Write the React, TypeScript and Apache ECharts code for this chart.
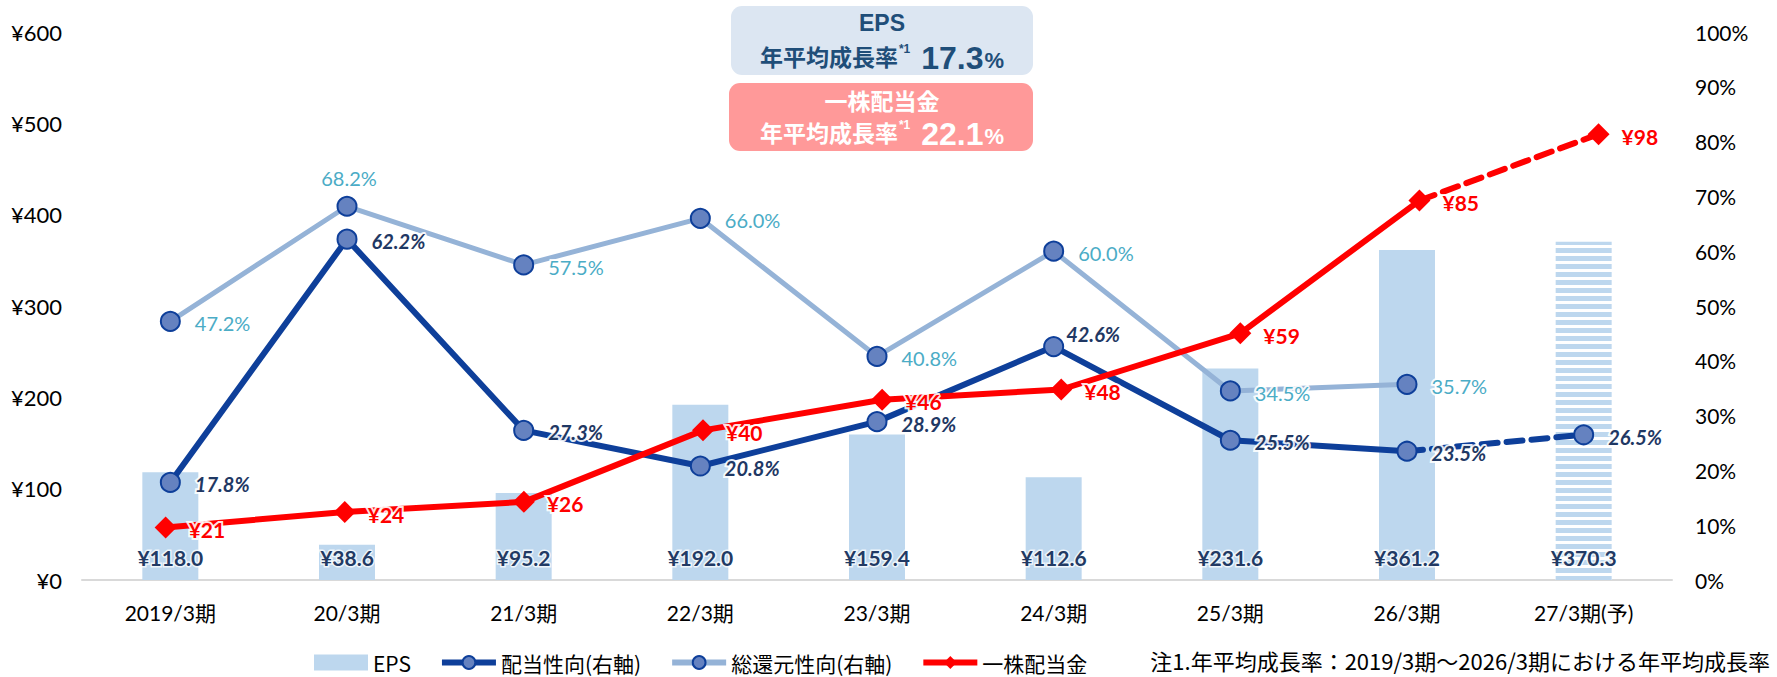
import React, { useEffect, useRef } from "react";
import * as echarts from "echarts";

const categories = ["2019/3期", "20/3期", "21/3期", "22/3期", "23/3期", "24/3期", "25/3期", "26/3期", "27/3期(予)"];
const eps = [118.0, 38.6, 95.2, 192.0, 159.4, 112.6, 231.6, 361.2, 370.3];
const payoutRatio = [17.8, 62.2, 27.3, 20.8, 28.9, 42.6, 25.5, 23.5, 26.5];
const totalReturnRatio: (number | null)[] = [47.2, 68.2, 57.5, 66.0, 40.8, 60.0, 34.5, 35.7, null];
const dividend = [21, 24, 26, 40, 46, 48, 59, 85, 98];
const forecastIndex = 8;

const seriesNames = ["EPS", "配当性向(右軸)", "総還元性向(右軸)", "一株配当金"];
const epsCagr = "17.3";
const dividendCagr = "22.1";
const footnote = "注1.年平均成長率：2019/3期～2026/3期における年平均成長率";

const FONT = 'Lato, "Noto Sans CJK JP", sans-serif';
const BOX_FONT = '"Liberation Sans", "Noto Sans CJK JP", sans-serif';

const BAR_COLOR = "#BDD7EE";
const PAYOUT_COLOR = "#0E3F9A";
const TOTAL_COLOR = "#95B3D7";
const MARKER_FILL = "#6582C0";
const RED = "#FF0000";

export default function App() {
  const ref = useRef<HTMLDivElement>(null);

  useEffect(() => {
    if (!ref.current) return;
    const chart = echarts.init(ref.current, null, { renderer: "svg" });

    const halo = { textBorderColor: "rgba(255,255,255,0.9)", textBorderWidth: 4 };

    const payoutLabel = {
      show: true,
      position: "right",
      distance: 14,
      offset: [0, 2],
      fontSize: 20,
      fontWeight: "bold",
      fontStyle: "italic",
      color: "#1F3864",
      fontFamily: FONT,
      ...halo,
      formatter: (p: any) => Number(p.value).toFixed(1) + "%",
    };

    const payoutSolid = payoutRatio.map((v, i) => {
      if (i === forecastIndex) return "-";
      if (v === 42.6) return { value: v, label: { distance: 2, offset: [0, -13] } };
      return v;
    });
    const payoutDashed = payoutRatio.map((v, i) => {
      if (i === forecastIndex - 1) return { value: v, symbol: "none", label: { show: false } };
      if (i === forecastIndex) return v;
      return "-";
    });

    const totalData = totalReturnRatio.map((v, i) => {
      if (v === null) return "-";
      if (i === 1) return { value: v, label: { position: "top", distance: 8, offset: [2, 0] } };
      return v;
    });

    const divSolid = dividend.map((v, i) => (i === forecastIndex ? [i, null] : [i, v]));
    const divDashed = dividend.map((v, i) => {
      if (i === forecastIndex - 1) return { value: [i, v], symbol: "none", label: { show: false } };
      if (i === forecastIndex) return { value: [i, v] };
      return { value: [i, null] };
    });

    const divLabel = {
      show: true,
      position: "right",
      distance: 12,
      offset: [0, 2],
      fontSize: 21,
      fontWeight: "bold",
      color: RED,
      fontFamily: FONT,
      ...halo,
      formatter: (p: any) => "¥" + p.value[1],
    };

    const circle = {
      symbol: "circle",
      symbolSize: 19,
      itemStyle: { color: MARKER_FILL, borderColor: PAYOUT_COLOR, borderWidth: 2 },
    };

    const boxRich = (color: string) => ({
      a: { fontSize: 23, fontWeight: "bold", fontFamily: BOX_FONT, color },
      s: { fontSize: 12, fontWeight: "bold", fontFamily: BOX_FONT, color, verticalAlign: "top", padding: [1, 2, 0, 1] },
      b: { fontSize: 32, fontWeight: "bold", fontFamily: BOX_FONT, color },
      p: { fontSize: 22, fontWeight: "bold", fontFamily: BOX_FONT, color, verticalAlign: "bottom", padding: [0, 0, 3, 1] },
    });

    const option: any = {
      animation: false,
      textStyle: { fontFamily: FONT },
      grid: { left: 82, right: 105, top: 32, bottom: 97, containLabel: false },
      legend: {
        data: [
          { name: seriesNames[0], icon: "rect" },
          { name: seriesNames[1] },
          { name: seriesNames[2] },
          { name: seriesNames[3] },
        ],
        left: 309,
        top: 647,
        itemWidth: 54,
        itemHeight: 16,
        itemGap: 28,
        lineStyle: { width: 6 },
        textStyle: { fontSize: 21, fontWeight: "normal", color: "#000", fontFamily: '"Noto Sans CJK JP", sans-serif' },
      },
      graphic: [
        {
          type: "rect",
          shape: { x: 731, y: 6, width: 302, height: 69, r: 11 },
          style: { fill: "#DCE6F2" },
          silent: true,
        },
        {
          type: "rect",
          shape: { x: 729, y: 83, width: 304, height: 68, r: 11 },
          style: { fill: "#FF9999" },
          silent: true,
        },
        {
          type: "text",
          x: 882,
          y: 23,
          style: {
            text: "EPS",
            fill: "#1F4E79",
            font: `bold 23px ${BOX_FONT}`,
            textAlign: "center",
            textVerticalAlign: "middle",
          },
        },
        {
          type: "text",
          x: 882,
          y: 58,
          style: {
            text: `{a|年平均成長率}{s|*1}{b| ${epsCagr}}{p|%}`,
            fill: "#1F4E79",
            textAlign: "center",
            textVerticalAlign: "middle",
            rich: boxRich("#1F4E79"),
          },
        },
        {
          type: "text",
          x: 882,
          y: 102,
          style: {
            text: "一株配当金",
            fill: "#FFFFFF",
            font: `bold 23px ${BOX_FONT}`,
            textAlign: "center",
            textVerticalAlign: "middle",
          },
        },
        {
          type: "text",
          x: 882,
          y: 134,
          style: {
            text: `{a|年平均成長率}{s|*1}{b| ${dividendCagr}}{p|%}`,
            fill: "#FFFFFF",
            textAlign: "center",
            textVerticalAlign: "middle",
            rich: boxRich("#FFFFFF"),
          },
        },
        {
          type: "text",
          x: 1770,
          y: 660,
          style: {
            text: footnote,
            fill: "#000",
            font: `22px "Noto Sans CJK JP", sans-serif`,
            textAlign: "right",
            textVerticalAlign: "middle",
          },
        },
      ],
      xAxis: [
        {
          type: "category",
          data: categories,
          axisLine: { lineStyle: { color: "#D9D9D9", width: 2 } },
          axisTick: { show: false },
          axisLabel: { fontSize: 21, color: "#000", margin: 22, fontFamily: FONT },
        },
        { type: "value", show: false, min: -0.467, max: 8.41 },
      ],
      yAxis: [
        {
          type: "value",
          min: 0,
          max: 600,
          interval: 100,
          axisLine: { show: false },
          axisTick: { show: false },
          splitLine: { show: false },
          axisLabel: { formatter: "¥{value}", fontSize: 22, color: "#000", margin: 20, fontFamily: FONT },
        },
        {
          type: "value",
          position: "right",
          min: 0,
          max: 100,
          interval: 10,
          axisLine: { show: false },
          axisTick: { show: false },
          splitLine: { show: false },
          axisLabel: { formatter: "{value}%", fontSize: 21, color: "#000", margin: 23, fontFamily: FONT },
        },
        { type: "value", show: false, min: 10.7, max: 118 },
      ],
      series: [
        {
          name: seriesNames[0],
          type: "bar",
          barWidth: 56,
          itemStyle: { color: BAR_COLOR },
          data: eps.map((v, i) =>
            i === forecastIndex
              ? {
                  value: v,
                  itemStyle: {
                    color: "#FFFFFF",
                    decal: {
                      symbol: "rect",
                      symbolSize: 1,
                      symbolKeepAspect: false,
                      dashArrayX: [20, 0],
                      dashArrayY: [5, 3],
                      rotation: 0,
                      color: BAR_COLOR,
                      backgroundColor: "#FFFFFF",
                    },
                  },
                }
              : v
          ),
          label: {
            show: true,
            position: "insideBottom",
            distance: 12,
            fontSize: 21,
            fontWeight: "bold",
            color: "#223A64",
            fontFamily: FONT,
            textBorderColor: "rgba(255,255,255,0.75)",
            textBorderWidth: 3,
            formatter: (p: any) => "¥" + Number(p.value).toFixed(1),
          },
          z: 1,
        },
        {
          name: seriesNames[2],
          type: "line",
          yAxisIndex: 1,
          data: totalData,
          lineStyle: { color: TOTAL_COLOR, width: 5 },
          color: TOTAL_COLOR,
          ...circle,
          label: {
            show: true,
            position: "right",
            distance: 14,
            offset: [0, 2],
            fontSize: 20,
            color: "#4BACC6",
            fontFamily: FONT,
            ...halo,
            formatter: (p: any) => Number(p.value).toFixed(1) + "%",
          },
          z: 3,
        },
        {
          name: seriesNames[1],
          type: "line",
          yAxisIndex: 1,
          data: payoutSolid,
          lineStyle: { color: PAYOUT_COLOR, width: 6 },
          color: PAYOUT_COLOR,
          ...circle,
          label: payoutLabel,
          z: 4,
        },
        {
          name: "配当性向(予)",
          type: "line",
          yAxisIndex: 1,
          data: payoutDashed,
          lineStyle: { color: PAYOUT_COLOR, width: 6, type: [16, 9], cap: "round" },
          color: PAYOUT_COLOR,
          ...circle,
          label: payoutLabel,
          z: 4,
        },
        {
          name: seriesNames[3],
          type: "line",
          xAxisIndex: 1,
          yAxisIndex: 2,
          data: divSolid,
          lineStyle: { color: RED, width: 6 },
          color: RED,
          symbol: "diamond",
          symbolSize: 22,
          itemStyle: { color: RED },
          label: divLabel,
          z: 5,
        },
        {
          name: "一株配当金(予)",
          type: "line",
          xAxisIndex: 1,
          yAxisIndex: 2,
          data: divDashed,
          lineStyle: { color: RED, width: 6, type: [16, 9], cap: "round" },
          color: RED,
          symbol: "diamond",
          symbolSize: 22,
          itemStyle: { color: RED },
          label: divLabel,
          z: 5,
        },
      ],
    };

    chart.setOption(option);
    return () => chart.dispose();
  }, []);

  return (
    <div
      ref={ref}
      style={{ position: "fixed", left: 0, top: 0, width: 1777, height: 677, background: "#fff" }}
    />
  );
}
